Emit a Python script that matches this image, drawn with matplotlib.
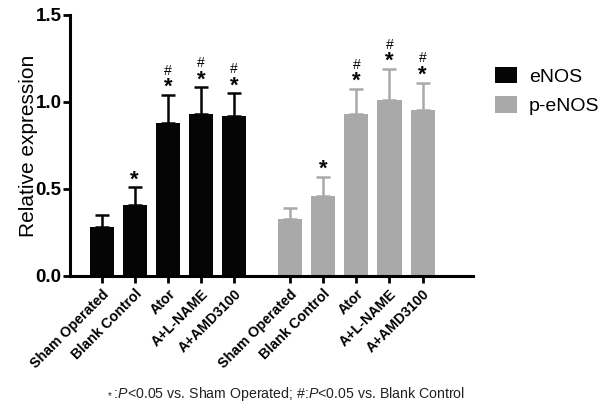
import numpy as np
import matplotlib
matplotlib.use("Agg")
import matplotlib.pyplot as plt
from matplotlib.patches import Patch

plt.rcParams['font.family'] = ['Liberation Sans', 'DejaVu Sans']
plt.rcParams['mathtext.fontset'] = 'custom'
plt.rcParams['mathtext.rm'] = 'Liberation Sans'
plt.rcParams['mathtext.it'] = 'Liberation Sans:italic'
plt.rcParams['mathtext.bf'] = 'Liberation Sans:bold'

groups = ['Sham Operated', 'Blank Control', 'Ator', 'A+L-NAME', 'A+AMD3100']
enos = [0.28, 0.41, 0.88, 0.93, 0.92]
enos_err = [0.07, 0.10, 0.16, 0.155, 0.13]
penos = [0.33, 0.46, 0.93, 1.01, 0.955]
penos_err = [0.06, 0.11, 0.145, 0.18, 0.155]
# significance marks per bar: '*' vs sham, '#' vs blank control
marks = ['', '*', '*#', '*#', '*#']

black = '#050505'
grey = '#a9a9a9'

x1 = np.arange(5)
x2 = x1 + 5.68
w = 0.73

fig = plt.figure(figsize=(6.12, 4.04), dpi=100)
ax = fig.add_axes([0.114, 0.317, 0.659, 0.646])

def draw_group(xs, vals, errs, color):
    ax.bar(xs, vals, width=w, color=color, edgecolor='none')
    ax.errorbar(xs, vals, yerr=[np.zeros(len(vals)), errs], fmt='none',
                ecolor=color, elinewidth=1.8, capsize=5, capthick=1.8)
    for x, v, e, m in zip(xs, vals, errs, marks):
        top = v + e
        # mathtext keeps the text boxes tight around the glyphs
        if '*' in m:
            ax.text(x, top + 0.048, r'$\mathbf{*}$', ha='center', va='center',
                    fontsize=16, color=black)
        if '#' in m:
            ax.text(x, top + 0.14, r'$\#$', ha='center', va='center',
                    fontsize=10, color=black)

draw_group(x1, enos, enos_err, black)
draw_group(x2, penos, penos_err, grey)

ax.set_xlim(-0.96, 11.2)
ax.set_ylim(0, 1.5)
ax.set_yticks([0.0, 0.5, 1.0, 1.5])
ax.set_yticklabels(['0.0', '0.5', '1.0', '1.5'], fontsize=13.5, fontweight='bold')
ax.set_xticks(np.concatenate([x1, x2]))
ax.set_xticklabels(groups + groups, rotation=45, ha='right',
                   rotation_mode='anchor', fontsize=10.2, fontweight='bold')
ax.set_ylabel('Relative expression', fontsize=15)
ax.yaxis.set_label_coords(-0.08, 0.5)

for s in ['top', 'right']:
    ax.spines[s].set_visible(False)
for s in ['left', 'bottom']:
    ax.spines[s].set_linewidth(2.2)
ax.tick_params(axis='both', width=2.0, length=5, direction='out')
ax.tick_params(axis='x', pad=3)
ax.tick_params(axis='y', pad=1)

handles = [Patch(facecolor=black, label='eNOS'), Patch(facecolor=grey, label='p-eNOS')]
fig.legend(handles=handles, loc='upper left', bbox_to_anchor=(495 / 612, 1 - 67 / 404),
           frameon=False, fontsize=14, handlelength=1.15, handleheight=0.9,
           handletextpad=0.6, labelspacing=0.55, borderpad=0, borderaxespad=0)

fig.text(0.466, 0.025,
         r'$_*$:$\it{P}$<0.05 vs. Sham Operated; #:$\it{P}$<0.05 vs. Blank Control',
         ha='center', va='center', fontsize=10.2, color='#222222')

fig.savefig('out.png', dpi=100)
